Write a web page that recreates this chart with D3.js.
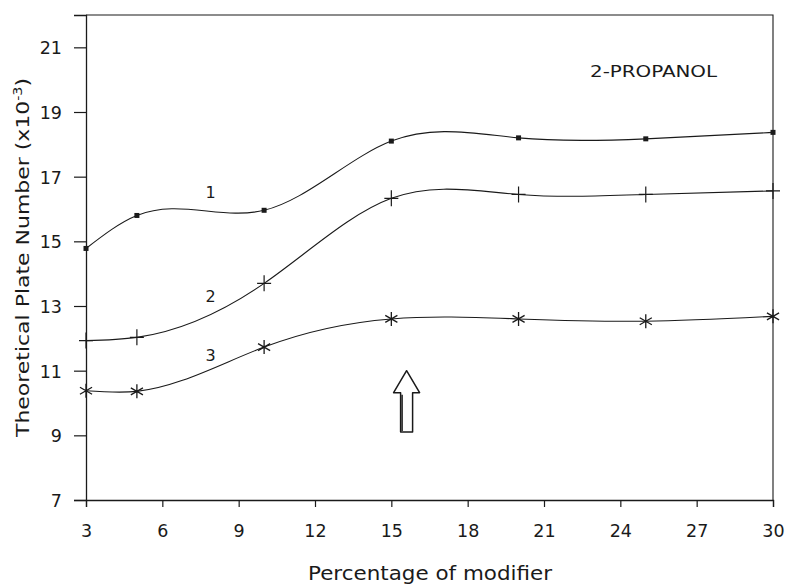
<!DOCTYPE html>
<html>
<head>
<meta charset="utf-8">
<script src="https://cdn.jsdelivr.net/npm/d3@7"></script>
<style>
  html, body { margin: 0; padding: 0; background: #fff; }
  svg { display: block; }
  text { font-family: "DejaVu Sans", "Liberation Sans", Arial, sans-serif; fill: #1a1a1a; }
</style>
</head>
<body>
<svg id="chart" width="790" height="586"></svg>
<script>
// Percentage of 2-propanol in the mobile phase
const modifierPct = [3, 5, 10, 15, 20, 25, 30];

// Theoretical plate numbers (x10^-3) for the three solutes
const plates1 = [14.78, 15.80, 15.96, 18.10, 18.20, 18.17, 18.37];
const plates2 = [11.93, 12.03, 13.70, 16.33, 16.45, 16.45, 16.56];
const plates3 = [10.38, 10.36, 11.73, 12.60, 12.60, 12.53, 12.68];

const seriesNames = ["1", "2", "3"];
const seriesMarkers = ["square", "plus", "asterisk"];

const xTicks = [3, 6, 9, 12, 15, 18, 21, 24, 27, 30];
const yTicks = [7, 9, 11, 13, 15, 17, 19, 21];

// Arrow pointing at the chosen modifier level
const arrowX = [15.6];

// Natural cubic spline y(x): smooth curve through every point, x kept monotone
function NaturalX(context) { this._context = context; }
NaturalX.prototype = {
  areaStart() { this._line = 0; },
  areaEnd() { this._line = NaN; },
  lineStart() { this._x = []; this._y = []; },
  point(x, y) { this._x.push(+x); this._y.push(+y); },
  lineEnd() {
    const X = this._x, Y = this._y, n = X.length, ctx = this._context;
    if (!n) return;
    ctx.moveTo(X[0], Y[0]);
    if (n === 1) return;
    const h = [];
    for (let i = 0; i < n - 1; i++) h.push(X[i + 1] - X[i]);
    const M = new Array(n).fill(0);
    if (n > 2) {
      const a = [], b = [], c = [], d = [];
      for (let i = 1; i < n - 1; i++) {
        a.push(h[i - 1]);
        b.push(2 * (h[i - 1] + h[i]));
        c.push(h[i]);
        d.push(6 * ((Y[i + 1] - Y[i]) / h[i] - (Y[i] - Y[i - 1]) / h[i - 1]));
      }
      const m = b.length;
      for (let i = 1; i < m; i++) {
        const w = a[i] / b[i - 1];
        b[i] -= w * c[i - 1];
        d[i] -= w * d[i - 1];
      }
      const sol = new Array(m);
      sol[m - 1] = d[m - 1] / b[m - 1];
      for (let i = m - 2; i >= 0; i--) sol[i] = (d[i] - c[i] * sol[i + 1]) / b[i];
      for (let i = 0; i < m; i++) M[i + 1] = sol[i];
    }
    for (let i = 0; i < n - 1; i++) {
      const hi = h[i], s = (Y[i + 1] - Y[i]) / hi;
      const m0 = s - hi * (2 * M[i] + M[i + 1]) / 6;
      const m1 = s + hi * (M[i] + 2 * M[i + 1]) / 6;
      ctx.bezierCurveTo(X[i] + hi / 3, Y[i] + m0 * hi / 3,
                        X[i + 1] - hi / 3, Y[i + 1] - m1 * hi / 3,
                        X[i + 1], Y[i + 1]);
    }
  }
};
const curveNaturalX = ctx => new NaturalX(ctx);

const svg = d3.select("#chart");
const margin = { left: 86, right: 17, top: 15, bottom: 86 };
const W = 790, H = 586;

const x = d3.scaleLinear().domain([3, 30]).range([margin.left, W - margin.right]);
const y = d3.scaleLinear().domain([7, 22]).range([H - margin.bottom, margin.top]);

const ink = "#1a1a1a";
const fontFam = "'DejaVu Sans', 'Liberation Sans', Arial, sans-serif";

// Frame (top and right edges)
svg.append("path")
  .attr("d", `M${x(3)},${y(22)}H${x(30)}V${y(7)}`)
  .attr("fill", "none").attr("stroke", ink).attr("stroke-width", 1.1);

// X axis
const gx = svg.append("g")
  .attr("transform", `translate(0,${y(7)})`)
  .call(d3.axisBottom(x).tickValues(xTicks).tickSize(7).tickPadding(0).tickFormat(d3.format("d")));
gx.select(".domain").attr("stroke", ink).attr("stroke-width", 1.3);
gx.selectAll(".tick line").attr("stroke", ink).attr("stroke-width", 1.2);
gx.selectAll(".tick text").attr("font-size", 17.5).attr("fill", ink)
  .attr("dy", null).attr("y", 37)
  .style("font-family", fontFam);

// Y axis
const gy = svg.append("g")
  .attr("transform", `translate(${x(3)},0)`)
  .call(d3.axisLeft(y).tickValues(yTicks).tickSize(12).tickPadding(12).tickFormat(d3.format("d")));
gy.select(".domain").attr("stroke", ink).attr("stroke-width", 1.3);
gy.selectAll(".tick line").attr("stroke", ink).attr("stroke-width", 1.2);
gy.selectAll(".tick text").attr("font-size", 17.5).attr("fill", ink)
  .attr("dy", "0.38em")
  .style("font-family", fontFam);

// Axis titles
svg.append("text")
  .attr("x", 308).attr("y", 580)
  .attr("font-size", 19.5)
  .attr("textLength", 244).attr("lengthAdjust", "spacingAndGlyphs")
  .text("Percentage of modifier");

const yt = svg.append("text")
  .attr("transform", `translate(29,437) rotate(-90)`)
  .attr("font-size", 18.5)
  .attr("textLength", 359).attr("lengthAdjust", "spacingAndGlyphs");
yt.append("tspan").text("Theoretical Plate Number (x10");
yt.append("tspan").attr("dy", -7).attr("font-size", 12).text("-3");
yt.append("tspan").attr("dy", 7).text(")");

// Series curves and markers
const allSeries = [plates1, plates2, plates3];
const line = d3.line()
  .x((d, i) => x(modifierPct[i]))
  .y(d => y(d))
  .curve(curveNaturalX);

allSeries.forEach((vals, si) => {
  svg.append("path")
    .datum(vals)
    .attr("d", line)
    .attr("fill", "none").attr("stroke", ink).attr("stroke-width", 1.1);

  const g = svg.append("g");
  vals.forEach((v, i) => {
    const cx = x(modifierPct[i]), cy = y(v);
    const kind = seriesMarkers[si];
    if (kind === "square") {
      g.append("rect").attr("x", cx - 2.5).attr("y", cy - 2.5)
        .attr("width", 5).attr("height", 5).attr("fill", ink);
    } else if (kind === "plus") {
      g.append("path")
        .attr("d", `M${cx},${cy - 8}V${cy + 8}M${cx - 7},${cy}H${cx + 7}`)
        .attr("stroke", ink).attr("stroke-width", 1.2).attr("fill", "none");
    } else {
      const r = 7;
      const dx = r * Math.cos(Math.PI / 6), dy = r * Math.sin(Math.PI / 6);
      g.append("path")
        .attr("d", `M${cx},${cy - r}V${cy + r}M${cx - dx},${cy - dy}L${cx + dx},${cy + dy}M${cx - dx},${cy + dy}L${cx + dx},${cy - dy}`)
        .attr("stroke", ink).attr("stroke-width", 1.3).attr("fill", "none");
    }
  });
});

// Curve numbers
const labelPos = [[7.9, 16.51], [7.9, 13.29], [7.9, 11.49]];
labelPos.forEach((p, i) => {
  svg.append("text")
    .attr("x", x(p[0])).attr("y", y(p[1]))
    .attr("dy", "0.36em")
    .attr("text-anchor", "middle").attr("font-size", 16)
    .text(seriesNames[i]);
});

// Solvent label
svg.append("text")
  .attr("x", 590).attr("y", 77)
  .attr("font-size", 16)
  .attr("textLength", 127).attr("lengthAdjust", "spacingAndGlyphs")
  .text("2-PROPANOL");

// Hollow arrow
const ax = x(arrowX[0]);
const tipY = y(11.0), baseY = y(9.1);
const headY = tipY + 22, halfHead = 13, halfShaft = 6;
svg.append("path")
  .attr("d", `M${ax},${tipY}L${ax + halfHead},${headY}L${ax + halfShaft},${headY}L${ax + halfShaft},${baseY}` +
             `L${ax - halfShaft},${baseY}L${ax - halfShaft},${headY}L${ax - halfHead},${headY}Z`)
  .attr("fill", "#fff").attr("stroke", ink).attr("stroke-width", 1.5).attr("stroke-linejoin", "round");
svg.append("line")
  .attr("x1", ax - halfShaft + 1.5).attr("x2", ax - halfShaft + 1.5)
  .attr("y1", headY + 2).attr("y2", baseY - 1)
  .attr("stroke", ink).attr("stroke-width", 1.5);
</script>
</body>
</html>
